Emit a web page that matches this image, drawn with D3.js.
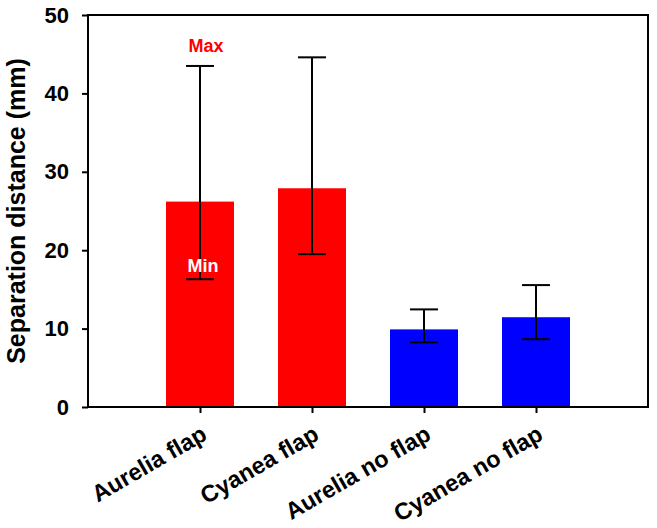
<!DOCTYPE html>
<html><head><meta charset="utf-8">
<script src="https://cdn.jsdelivr.net/npm/d3@7"></script>
<style>body{margin:0;background:#fff}svg{display:block}text{font-family:"Liberation Sans",Arial,sans-serif;font-weight:bold}</style>
</head><body>
<script>
const categories = ["Aurelia flap","Cyanea flap","Aurelia no flap","Cyanea no flap"];
const means = [26.2, 27.9, 9.9, 11.45];
const maxs = [43.5, 44.6, 12.45, 15.55];
const mins = [16.3, 19.5, 8.25, 8.65];
const colors = ["#ff0000","#ff0000","#0000ff","#0000ff"];
const yTicks = [0,10,20,30,40,50];

const W=657,H=528;
const L=88,R=648,T=15,B=407;
const svg=d3.select("body").append("svg").attr("width",W).attr("height",H);
const x=d3.scalePoint().domain(categories).range([L,R]).padding(1);
const y=d3.scaleLinear().domain([0,50]).range([B,T]);
const bw=68, cw=28;

const data=categories.map((c,i)=>({c,m:means[i],hi:maxs[i],lo:mins[i],col:colors[i]}));
svg.selectAll("rect.bar").data(data).join("rect").attr("class","bar")
 .attr("x",d=>x(d.c)-bw/2).attr("width",bw)
 .attr("y",d=>y(d.m)).attr("height",d=>y(0)-y(d.m)).attr("fill",d=>d.col);

const eb=svg.append("g").attr("stroke","#000").attr("stroke-width",2);
data.forEach(d=>{
 eb.append("line").attr("x1",x(d.c)).attr("x2",x(d.c)).attr("y1",y(d.hi)).attr("y2",y(d.lo));
 eb.append("line").attr("x1",x(d.c)-cw/2).attr("x2",x(d.c)+cw/2).attr("y1",y(d.hi)).attr("y2",y(d.hi));
 eb.append("line").attr("x1",x(d.c)-cw/2).attr("x2",x(d.c)+cw/2).attr("y1",y(d.lo)).attr("y2",y(d.lo));
});

// frame
svg.append("rect").attr("x",L).attr("y",T).attr("width",R-L).attr("height",B-T)
 .attr("fill","none").attr("stroke","#000").attr("stroke-width",2);

const ya=svg.append("g").attr("transform",`translate(${L},0)`)
 .call(d3.axisLeft(y).tickValues(yTicks).tickSize(6).tickPadding(13).tickFormat(d3.format("d")));
ya.select(".domain").remove();
ya.selectAll("line").attr("stroke","#000").attr("stroke-width",2);
ya.selectAll("text").attr("font-size",22).attr("fill","#000").attr("font-family","Liberation Sans, Arial, sans-serif").attr("font-weight","bold");

const xa=svg.append("g").attr("transform",`translate(0,${B})`)
 .call(d3.axisBottom(x).tickSize(6).tickPadding(4));
xa.select(".domain").remove();
xa.selectAll("line").attr("stroke","#000").attr("stroke-width",2);
xa.selectAll("text").attr("font-size",23.5).attr("fill","#000")
 .attr("font-family","Liberation Sans, Arial, sans-serif").attr("font-weight","bold")
 .attr("text-anchor","end").attr("dy",0)
 .attr("transform","translate(3,23) rotate(-30)");

svg.append("text").attr("transform",`translate(25,${(T+B)/2}) rotate(-90)`)
 .attr("text-anchor","middle").attr("font-size",25).attr("fill","#000")
 .text("Separation distance (mm)");

svg.append("text").attr("x",x(categories[0])+6).attr("y",y(maxs[0])-14)
 .attr("text-anchor","middle").attr("font-size",18).attr("fill","#ff0000").text("Max");
svg.append("text").attr("x",x(categories[0])+3).attr("y",y(mins[0])-7)
 .attr("text-anchor","middle").attr("font-size",18).attr("fill","#fff").text("Min");
</script>
</body></html>
